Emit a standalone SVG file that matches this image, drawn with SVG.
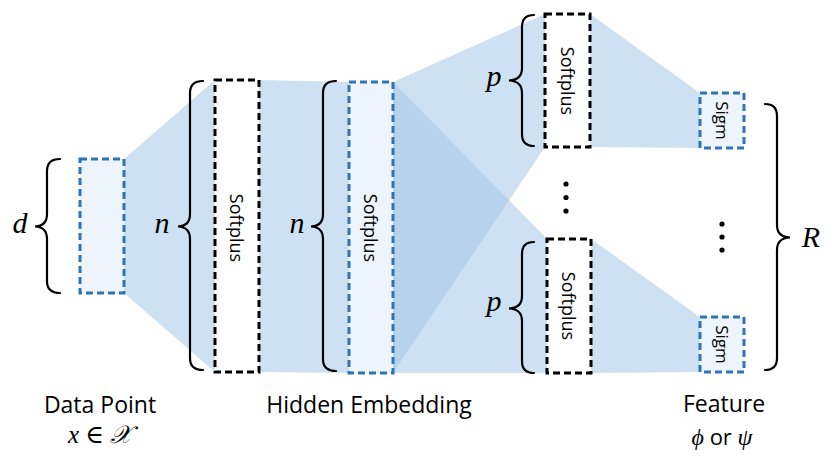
<svg xmlns="http://www.w3.org/2000/svg" width="830" height="457" viewBox="0 0 830 457">
<style>
.fan{fill:#9DC3E6;fill-opacity:0.5;stroke:none}
.bk{fill:#FFFFFF;stroke:#000;stroke-width:3;stroke-dasharray:7,4}
.bl{fill:#EDF4FB;stroke:#2E75B6;stroke-width:3;stroke-dasharray:7,4}
.br{fill:none;stroke:#000;stroke-width:2.2;stroke-linecap:round}
.lbl{font-family:"Open Sans","Noto Sans",sans-serif;font-size:18px;fill:#000;text-anchor:middle;dominant-baseline:central}
.sg{font-size:17px}
.math{font-family:"Liberation Serif","DejaVu Serif",serif;font-style:italic;font-size:30px;fill:#000;text-anchor:middle}
.cap{font-family:"Open Sans","Noto Sans",sans-serif;font-size:23px;fill:#000;text-anchor:middle}
.dot{fill:#000}
</style>
<g id="connectors">
<polygon class="fan" points="124,159 215,80 215,372 124,293"/>
<polygon class="fan" points="259,80 349,82 349,373 259,372"/>
<polygon class="fan" points="393,82 545,14 545,147 393,373"/>
<polygon class="fan" points="393,82 547,239 547,373 393,373"/>
<polygon class="fan" points="590,14 700,93 700,148 590,147"/>
<polygon class="fan" points="591,239 700,317 700,372 591,373"/>
</g>
<g id="data-point">
<rect class="bl" x="80" y="159" width="44" height="134"/>
<path class="br" d="M60,159 Q47,159 47,171 L47,214 Q47,226 35,226.5 Q47,227 47,239 L47,281 Q47,293 60,293"/>
<text class="math" x="20" y="233">d</text>
</g>
<g id="hidden-1">
<rect class="bk" x="215" y="80" width="44" height="292"/>
<text class="lbl" transform="translate(237,228) rotate(90)">Softplus</text>
<path class="br" d="M203,81 Q190,81 190,93 L190,214 Q190,226 178,226.5 Q190,227 190,239 L190,358 Q190,370 203,370"/>
<text class="math" x="162" y="233">n</text>
</g>
<g id="hidden-2">
<rect class="bl" x="349" y="82" width="44" height="291"/>
<text class="lbl" transform="translate(371,228) rotate(90)">Softplus</text>
<path class="br" d="M336,81 Q323,81 323,93 L323,214 Q323,226 311,226.5 Q323,227 323,239 L323,359 Q323,371 336,371"/>
<text class="math" x="297" y="233">n</text>
</g>
<g id="softplus-top">
<rect class="bk" x="545" y="14" width="45" height="133"/>
<text class="lbl" transform="translate(567.5,81) rotate(90)">Softplus</text>
<path class="br" d="M534,15 Q522,15 522,27 L522,68 Q522,80 509,80.5 Q522,81 522,93 L522,134 Q522,146 534,146"/>
<text class="math" x="494" y="86">p</text>
</g>
<g id="softplus-bottom">
<rect class="bk" x="547" y="239" width="44" height="134"/>
<text class="lbl" transform="translate(569,306) rotate(90)">Softplus</text>
<path class="br" d="M534,242 Q522,242 522,254 L522,296 Q522,308 509,308.5 Q522,309 522,321 L522,361 Q522,373 534,373"/>
<text class="math" x="494" y="311">p</text>
</g>
<g id="dots-middle">
<circle class="dot" cx="566" cy="184" r="2.6"/>
<circle class="dot" cx="566" cy="197.5" r="2.6"/>
<circle class="dot" cx="566" cy="211" r="2.6"/>
</g>
<g id="sigm-top">
<rect class="bl" x="700" y="93" width="44" height="55"/>
<text class="lbl sg" transform="translate(722,120.5) rotate(90)">Sigm</text>
</g>
<g id="sigm-bottom">
<rect class="bl" x="700" y="317" width="44" height="55"/>
<text class="lbl sg" transform="translate(722,344.5) rotate(90)">Sigm</text>
</g>
<g id="dots-right">
<circle class="dot" cx="722" cy="224" r="2.6"/>
<circle class="dot" cx="722" cy="237" r="2.6"/>
<circle class="dot" cx="722" cy="250" r="2.6"/>
</g>
<g id="brace-R">
<path class="br" d="M765,104 Q777,104 777,116 L777,225 Q777,237 790,237.5 Q777,238 777,250 L777,358 Q777,370 765,370"/>
<text class="math" x="811" y="247">R</text>
</g>
<g id="captions">
<text class="cap" x="100" y="413">Data Point</text>
<text x="100" y="443" text-anchor="middle" font-family="'Liberation Serif','DejaVu Serif',serif" font-size="25" fill="#000"><tspan font-style="italic">x</tspan> ∈ <tspan font-style="italic">𝒳</tspan></text>
<text class="cap" x="369" y="413">Hidden Embedding</text>
<text class="cap" x="724" y="412">Feature</text>
<text x="722" y="445" text-anchor="middle" font-size="24" fill="#000"><tspan font-family="'Liberation Serif','DejaVu Serif',serif" font-style="italic">ϕ</tspan><tspan font-family="'Open Sans',sans-serif" font-size="22"> or </tspan><tspan font-family="'Liberation Serif','DejaVu Serif',serif" font-style="italic">ψ</tspan></text>
</g>
</svg>
